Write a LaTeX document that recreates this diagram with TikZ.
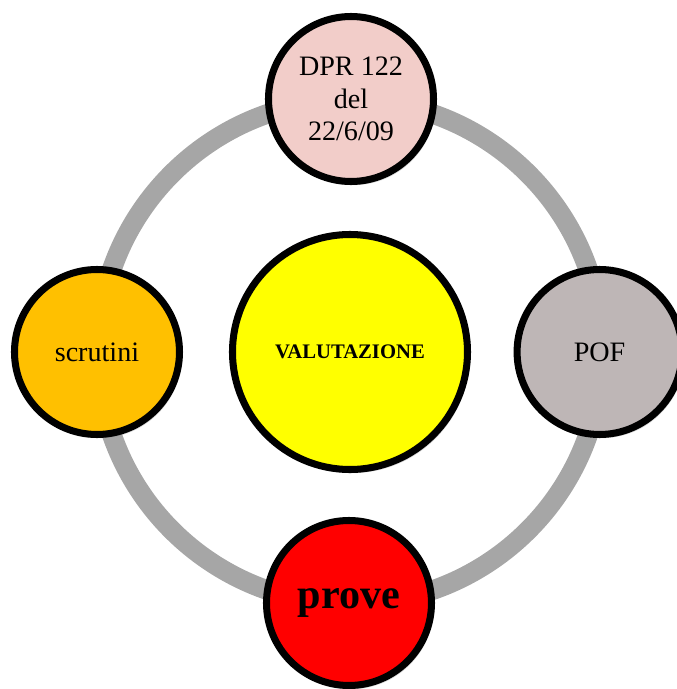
\documentclass[tikz,border=0pt]{standalone}
\usepackage{fontspec}
\setmainfont{Liberation Serif}
\usepackage{tikz}
\usetikzlibrary{shadows}

\definecolor{ringgray}{HTML}{A6A6A6}
\definecolor{dprpink}{HTML}{F2CDC9}
\definecolor{scrorange}{HTML}{FFC000}
\definecolor{pofgray}{HTML}{BEB6B6}
\definecolor{valyellow}{HTML}{FFFF00}
\definecolor{provered}{HTML}{FF0000}

\begin{document}
\begin{tikzpicture}[
    ball/.style={circle, draw=black, line width=5pt, minimum size=4.125cm, inner sep=0pt, align=center,
        font=\fontsize{20}{23}\selectfont,
        drop shadow={shadow xshift=0.6mm, shadow yshift=-0.9mm, opacity=0.3}},
    bigball/.style={ball, minimum size=5.875cm},
]
\useasboundingbox (-8.75,-8.425) rectangle (8.175,8.8);

% ring behind the circles
\draw[ringgray, line width=14pt] (0,0) circle (6.3cm);

\node[bigball, fill=valyellow, font=\fontsize{14.7}{17}\selectfont\bfseries] (valutazione) at (0,0) {VALUTAZIONE};

\node[ball, fill=dprpink] (dpr) at (0.025,6.325) {DPR 122\\del\\22/6/09};
\node[ball, fill=scrorange] (scrutini) at (-6.325,0) {scrutini};
\node[ball, fill=pofgray] (pof) at (6.24,0) {POF};
\node[ball, fill=provered, font=\fontsize{30}{34}\selectfont\bfseries] (prove) at (-0.025,-6.275) {prove};

\end{tikzpicture}
\end{document}
